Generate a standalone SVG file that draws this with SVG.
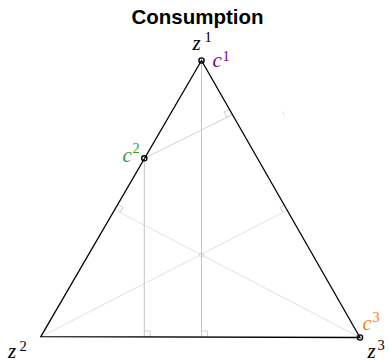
<svg xmlns="http://www.w3.org/2000/svg" width="389" height="363" viewBox="0 0 389 363">
<style>
.title{font-family:"Liberation Sans",Arial,sans-serif;font-weight:bold;font-size:20.5px;fill:#000}
.m{font-family:"Liberation Serif","Times New Roman",serif;font-style:italic;font-size:21px}
.s{font-family:"Liberation Serif","Times New Roman",serif;font-style:normal;font-size:14.5px}
.side{stroke:#000;stroke-width:1.3;fill:none}
.vert{stroke:#c4c4c4;stroke-width:1;fill:none}
.perp{stroke:#d0d0d0;stroke-width:1;fill:none}
.med{stroke:#e2e2e2;stroke-width:1;fill:none}
.ra{stroke:#c4c4c4;stroke-width:0.8;fill:none}
.pt{stroke:#000;stroke-width:1.4;fill:none}
</style>
<rect width="389" height="363" fill="#fff"/>
<text class="title" x="197.5" y="24" text-anchor="middle">Consumption</text>
<g id="connectors">
<line class="med" x1="360" y1="337.5" x2="114.7" y2="209.7"/>
<line class="med" x1="40.8" y1="336.7" x2="288.3" y2="209.7"/>
<line class="vert" x1="201.5" y1="60.5" x2="201.5" y2="337"/>
<line class="vert" x1="144.3" y1="158.3" x2="144.3" y2="337"/>
<line class="perp" x1="144.3" y1="158.3" x2="232.5" y2="114.6"/>
<line class="med" x1="282.5" y1="111.5" x2="284.6" y2="116.5"/>
<polyline class="ra" points="144.3,331 150.3,331 150.3,337"/>
<polyline class="ra" points="201.5,331 207.5,331 207.5,337"/>
<polyline class="ra" points="229.5,109.4 224.1,112.1 227.1,117.3"/>
<polyline class="ra" points="117.7,204.5 123,207.3 120,212.5"/>
<polyline class="ra" points="285.3,204.5 280,207.2 283,212.4"/>
<circle cx="201.6" cy="255" r="2.3" stroke="#d8d8d8" stroke-width="0.9" fill="none"/>
<polygon class="side" points="201.5,60.5 40.8,336.7 360,337.5"/>
</g>
<g id="z1">
<circle class="pt" cx="201.5" cy="60.5" r="2.6"/>
<text class="m" x="192.5" y="50" fill="#000">z</text>
<text class="s" x="204.5" y="42" fill="#000">1</text>
</g>
<g id="c1">
<text class="m" x="212.5" y="67" fill="#800080">c</text>
<text class="s" x="222.5" y="61" fill="#800080">1</text>
</g>
<g id="c2">
<circle class="pt" cx="144.3" cy="158.3" r="2.6"/>
<text class="m" x="122.5" y="162" fill="#2ca02c">c</text>
<text class="s" x="132.5" y="153" fill="#2ca02c">2</text>
</g>
<g id="z2">
<text class="m" x="8" y="358" fill="#000">z</text>
<text class="s" x="19.5" y="351" fill="#000">2</text>
</g>
<g id="c3">
<circle class="pt" cx="360" cy="337.5" r="2.6"/>
<text class="m" x="362.5" y="330" fill="#ff7f0e">c</text>
<text class="s" x="372.5" y="322" fill="#ff7f0e">3</text>
</g>
<g id="z3">
<text class="m" x="367.5" y="358" fill="#000">z</text>
<text class="s" x="377.5" y="350" fill="#000">3</text>
</g>
</svg>
